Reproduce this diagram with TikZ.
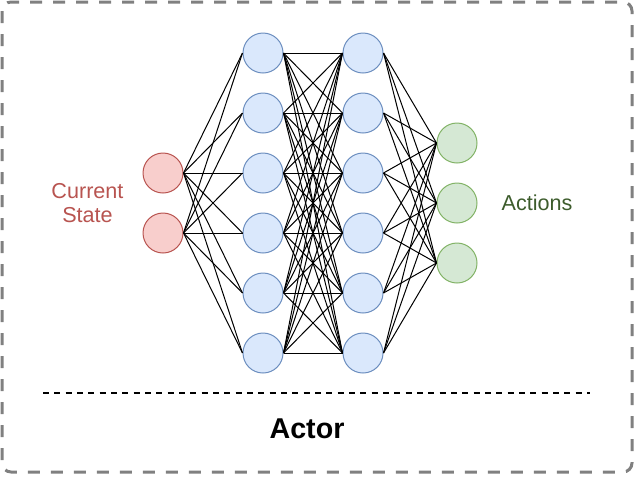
\documentclass[tikz,border=0pt]{standalone}
\usepackage{fontspec}
\setmainfont{Liberation Sans}
\definecolor{bfill}{HTML}{DAE8FC}
\definecolor{bline}{HTML}{6C8EBF}
\definecolor{rfill}{HTML}{F8CECC}
\definecolor{rline}{HTML}{B85450}
\definecolor{gfill}{HTML}{D5E8D4}
\definecolor{gline}{HTML}{82B366}
\definecolor{gtext}{HTML}{3D5C2C}
\definecolor{frame}{HTML}{808080}
\begin{document}
\begin{tikzpicture}[x=0.75pt,y=-0.75pt,
  neuron/.style={circle,minimum size=30pt,inner sep=0pt,line width=0.75pt},
  hid/.style={neuron,draw=bline,fill=bfill},
  inp/.style={neuron,draw=rline,fill=rfill},
  outp/.style={neuron,draw=gline,fill=gfill},
  link/.style={draw=black,line width=0.75pt},
  lbl/.style={font=\fontsize{16.2pt}{18pt}\selectfont,align=center,inner sep=0pt}]
\useasboundingbox (0,0) rectangle (634,476);
\draw[frame,line width=2.25pt,dash pattern=on 9pt off 8.25pt,rounded corners=6.75pt] (2,2) rectangle (632,472);
% nodes
\node[inp] (in1) at (163,173) {};
\node[inp] (in2) at (163,233) {};
\foreach \i/\y in {1/53,2/113,3/173,4/233,5/293,6/353}{
  \node[hid] (ha\i) at (263,\y) {};
  \node[hid] (hb\i) at (363,\y) {};
}
\node[outp] (out1) at (457,143) {};
\node[outp] (out2) at (457,203) {};
\node[outp] (out3) at (457,263) {};
% connections
\foreach \a in {1,2}{\foreach \b in {1,...,6}{\draw[link] (in\a.east) -- (ha\b.west);}}
\foreach \a in {1,...,6}{\foreach \b in {1,...,6}{\draw[link] (ha\a.east) -- (hb\b.west);}}
\foreach \a in {1,...,6}{\foreach \b in {1,2,3}{\draw[link] (hb\a.east) -- (out\b.west);}}
% labels
\node[lbl,text=rline] (cs) at (87.5,203) {Current\\State};
\node[lbl,text=gtext] (act) at (537,203) {Actions};
\coordinate (sepL) at (43,393);
\coordinate (sepR) at (590,393);
\draw[line width=1.5pt,dash pattern=on 4.5pt off 4pt] (sepL) -- (sepR);
\node[font=\fontsize{21.5pt}{24pt}\selectfont\bfseries,inner sep=0pt] (actor) at (307,428.5) {Actor};
\end{tikzpicture}
\end{document}
